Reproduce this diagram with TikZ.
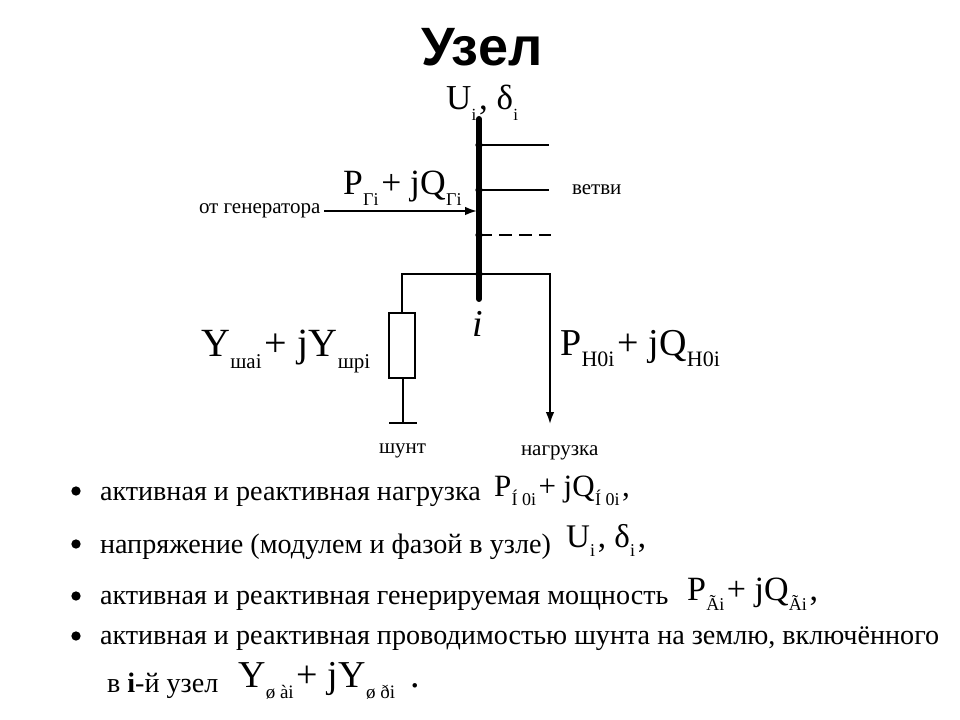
\documentclass[tikz,border=0pt]{standalone}
\usepackage{fontspec}
\setmainfont{Liberation Serif}
\newfontfamily\headfont{Liberation Sans}
\usetikzlibrary{arrows.meta}
\newcommand{\sz}[1]{\fontsize{\dimexpr#1pt*3/4\relax}{\dimexpr#1pt*3/4\relax}\selectfont}
\newcommand{\low}[2]{\kern0.01em\raisebox{-0.3em}{\sz{#1}#2}\kern0.08em}
\tikzset{
  x=0.75pt,y=-0.75pt,
  txt/.style={anchor=base west,inner sep=0pt,outer sep=0pt,text=black},
  smalltxt/.style={txt,font=\sz{21}},
  bodytxt/.style={txt,font=\sz{28.15}},
  wire/.style={line width=1.5pt,draw=black},
  busbar/.style={line width=4.5pt,line cap=round,draw=black},
  tap/.style={circle,fill=black,inner sep=0pt,minimum size=5.5pt},
  bulletdot/.style={circle,fill=black,inner sep=0pt,minimum size=7pt},
  arrowwire/.style={wire,-{Latex[length=9pt,width=6.5pt]}},
}
\begin{document}
\begin{tikzpicture}
\useasboundingbox (0,0) rectangle (960,720);
\node[txt,font=\headfont\bfseries\sz{54}] (title) at (421,66) {Узел};
\coordinate (bt) at (479,119);
\coordinate (bb) at (479,299);
\draw[busbar] (bt) -- (bb);
\node[tap] (b1) at (479,145) {}; \coordinate (e1) at (549,145);
\node[tap] (b2) at (479,190) {}; \coordinate (e2) at (549,190);
\node[tap] (b3) at (479,235) {}; \coordinate (e3) at (551,235);
\node[tap] (b4) at (479,274) {}; \coordinate (cr) at (550,274); \coordinate (cl) at (402,274);
\coordinate (gt) at (324,211); \coordinate (ga) at (477,211);
\draw[wire] (b1.center) -- (e1);
\draw[wire] (b2.center) -- (e2);
\draw[wire,dash pattern=on 10pt off 5pt] (b3.center) -- (e3);
\draw[arrowwire] (gt) -- (ga);
\node[draw=black,line width=1.5pt,fill=white,minimum width=19.5pt,minimum height=49pt,inner sep=0pt,anchor=north] (rs) at (402,311.5) {};
\coordinate (g0t) at (403,377); \coordinate (g0) at (403,423); \coordinate (gl) at (389,423); \coordinate (gr) at (417,423);
\coordinate (la) at (550,424);
\draw[wire] (b4.center) -- (cl) -- (rs.north);
\draw[wire] (g0t) -- (g0);
\draw[wire] (gl) -- (gr);
\draw[arrowwire] (b4.center) -- (cr) -- (la);
\node[txt,font=\sz{35}] (ui) at (446,110) {U\low{17}{i}, δ\low{17}{i}};
\node[txt,font=\sz{35.5}] (pg) at (343,195) {P\low{18}{Гi}+ jQ\low{18}{Гi}};
\node[smalltxt] (gen) at (199,214) {от генератора};
\node[smalltxt] (vet) at (572,195) {ветви};
\node[txt,font=\itshape\sz{38}] (ii) at (472,336) {i};
\node[txt,font=\sz{40}] (ysh) at (201,356) {Y\low{21}{шаi}+ jY\low{21}{шрi}};
\node[txt,font=\sz{38}] (pn) at (560,355) {P\low{22}{Н0i}+ jQ\low{22}{Н0i}};
\node[smalltxt] (shu) at (379,453) {шунт};
\node[smalltxt] (nag) at (521,455) {нагрузка};
\node[bulletdot] (d1) at (76,491) {};
\node[bulletdot] (d2) at (76,544) {};
\node[bulletdot] (d3) at (76,596) {};
\node[bulletdot] (d4) at (76,636) {};
\node[bodytxt] (t1) at (100,500) {активная и реактивная нагрузка};
\node[bodytxt] (t2) at (100,553) {напряжение (модулем и фазой в узле)};
\node[bodytxt] (t3) at (100,604) {активная и реактивная генерируемая мощность};
\node[bodytxt] (t4) at (100,644) {активная и реактивная проводимостью шунта на землю, включённого};
\node[bodytxt] (t5) at (107,692) {в \textbf{i}-й узел};
\node[txt,font=\sz{31}] (f1) at (494,496) {P\low{18}{Í 0i}+ jQ\low{18}{Í 0i},};
\node[txt,font=\sz{33}] (f2) at (566,547) {U\low{18}{i}, δ\low{18}{i},};
\node[txt,font=\sz{34}] (f3) at (687,600) {P\low{18}{Ãi}+ jQ\low{18}{Ãi},};
\node[txt,font=\sz{38}] (f4) at (238,687) {Y\low{19}{ø ài}+ jY\low{19}{ø ði}\,\,.};
\end{tikzpicture}
\end{document}
